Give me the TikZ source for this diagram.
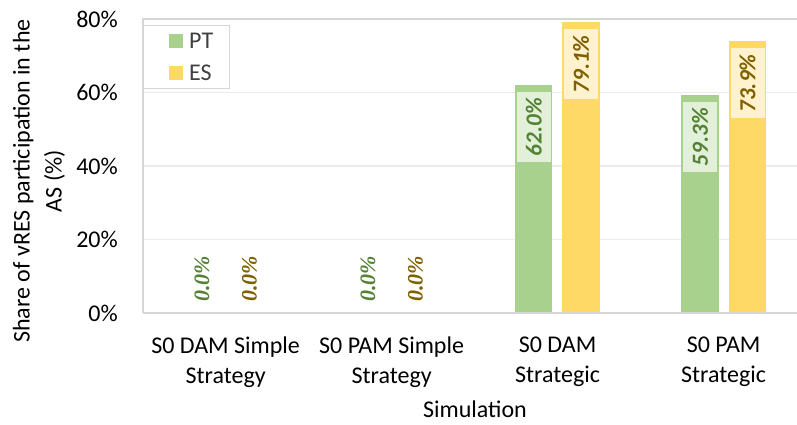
\documentclass[tikz,border=0pt]{standalone}
\usepackage{fontspec}
\setmainfont{Carlito}
\newfontfamily\zerofont{Liberation Serif}
\definecolor{ptfill}{HTML}{A9D18E}
\definecolor{esfill}{HTML}{FFD966}
\definecolor{ptlab}{HTML}{E2F0D9}
\definecolor{eslab}{HTML}{FFF2CC}
\definecolor{pttext}{HTML}{548235}
\definecolor{estext}{HTML}{7F6000}
\definecolor{gridgray}{HTML}{EBEBEB}
\definecolor{framegray}{HTML}{D6D6D6}
\tikzset{
  gridline/.style={draw=gridgray, line width=1.6pt},
  frameline/.style={draw=framegray, line width=1.8pt},
  ticklab/.style={anchor=east, inner sep=0pt, font=\fontsize{24}{28}\selectfont},
  catlab/.style={align=center, inner sep=0pt, font=\fontsize{24}{30}\selectfont},
  vallab/.style={rotate=90, inner sep=0pt, minimum width=70pt, minimum height=34pt,
    font=\fontsize{23}{26}\selectfont\bfseries\itshape},
  zerolab/.style={rotate=90, inner sep=0pt, font=\fontsize{22}{26}\selectfont\zerofont\bfseries\itshape},
}
\newcommand{\ppx}{3.675}% pixels per percent
\begin{document}
\begin{tikzpicture}[x=1pt,y=-1pt]
\useasboundingbox (0,0) rectangle (797,425);
% horizontal grid lines
\foreach \v in {20,40,60}
  \draw[gridline] (143,{313-\ppx*\v}) -- (797,{313-\ppx*\v});
% plot frame (top and left)
\draw[frameline] (797,19) -- (143,19) -- (143,313);

% bars: PT (green) and ES (yellow), four groups 166pt apart
% group 3: S0 DAM Strategic
\fill[ptfill] (515.3,{313-\ppx*62.0}) rectangle (552.3,313);
\fill[esfill] (562.3,{313-\ppx*79.1}) rectangle (600,313);
% group 4: S0 PAM Strategic
\fill[ptfill] (681,{313-\ppx*59.3}) rectangle (719,313);
\fill[esfill] (729,{313-\ppx*73.9}) rectangle (766,313);

% value labels
\node[vallab, fill=ptlab, text=pttext] (v3pt) at (533.8,{313-\ppx*62.0+42}) {62.0\%};
\node[vallab, fill=eslab, text=estext] (v3es) at (581.1,{313-\ppx*79.1+42}) {79.1\%};
\node[vallab, fill=ptlab, text=pttext] (v4pt) at (700,{313-\ppx*59.3+42}) {59.3\%};
\node[vallab, fill=eslab, text=estext] (v4es) at (747.5,{313-\ppx*73.9+42}) {73.9\%};
\node[zerolab, text=pttext] (v1pt) at (202,279) {0.0\%};
\node[zerolab, text=estext] (v1es) at (249.5,279) {0.0\%};
\node[zerolab, text=pttext] (v2pt) at (368,279) {0.0\%};
\node[zerolab, text=estext] (v2es) at (415.5,279) {0.0\%};

% category axis line
\draw[frameline] (143,313) -- (797,313);

% y tick labels
\foreach \v in {0,20,40,60,80}
  \node[ticklab] (t\v) at (118,{313-\ppx*\v}) {\v\%};

% category labels
\node[catlab] (c1) at (225.6,362) {S0 DAM Simple\\Strategy};
\node[catlab] (c2) at (391.6,362) {S0 PAM Simple\\Strategy};
\node[catlab] (c3) at (557.6,362) {S0 DAM\\Strategic};
\node[catlab] (c4) at (723.6,362) {S0 PAM\\Strategic};

% axis titles
\node[catlab, rotate=90, font=\fontsize{24}{32}\selectfont] (ytitle) at (39,181)
  {Share of vRES participation in the\\AS (\%)};
\node[catlab] (xtitle) at (475,409) {Simulation};

% legend
\draw[frameline, fill=white, line width=1.4pt] (143.5,25.7) rectangle (229.3,88.3);
\fill[ptfill] (169,34) rectangle (182.7,48);
\fill[esfill] (169,66.3) rectangle (182.7,80);
\node[anchor=west, inner sep=0pt, font=\fontsize{24}{28}\selectfont, text=black!75] (lpt) at (189,41) {PT};
\node[anchor=west, inner sep=0pt, font=\fontsize{24}{28}\selectfont, text=black!75] (les) at (189,73) {ES};
\end{tikzpicture}
\end{document}
